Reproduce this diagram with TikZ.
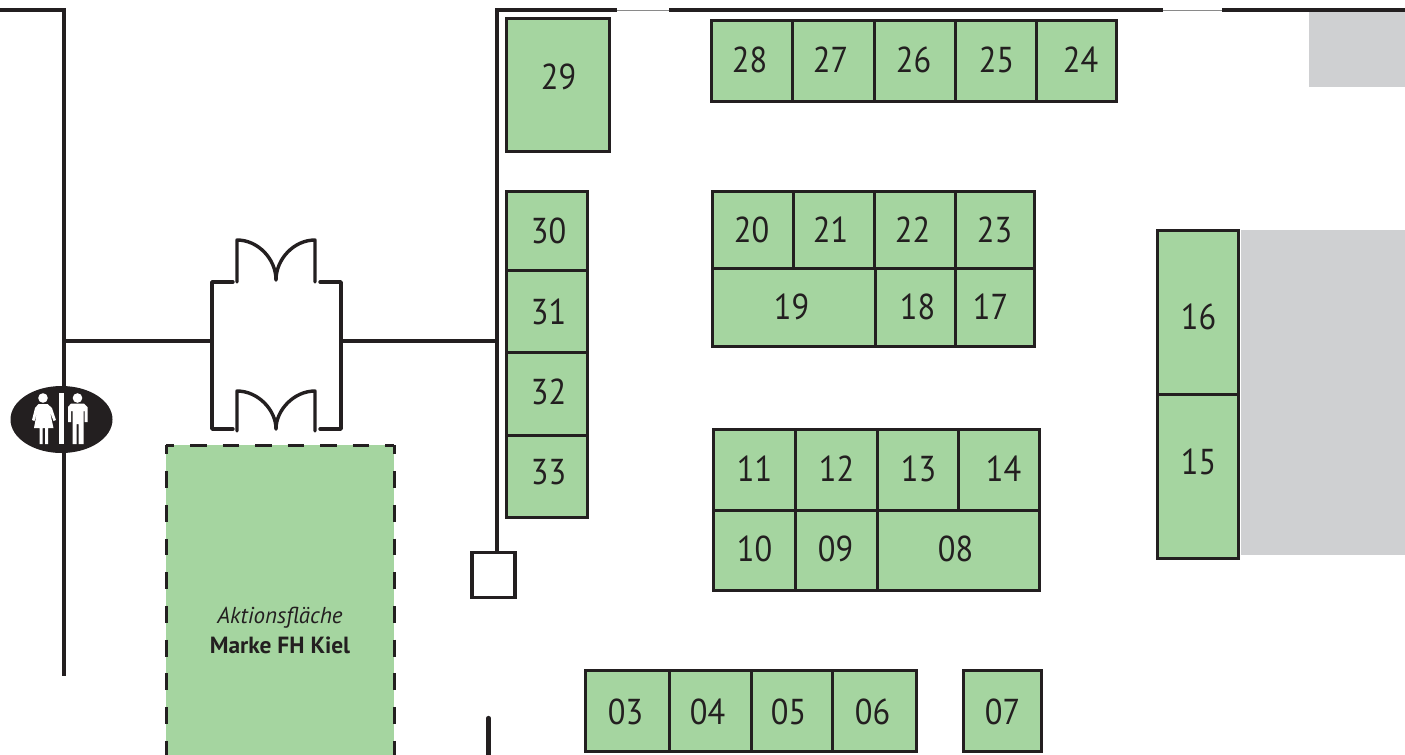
\documentclass[tikz,border=0pt]{standalone}
\usepackage{fontspec}
\usetikzlibrary{shapes.geometric}
\setmainfont[FakeStretch=0.9]{PT Sans}
\newfontfamily\areafont{PT Sans}
\definecolor{boothgreen}{HTML}{A5D5A0}
\definecolor{areagrey}{HTML}{CFD0D2}
\definecolor{inkblack}{HTML}{231F20}
\definecolor{thinwall}{HTML}{8A8A8A}
\tikzset{
  boothbox/.style={draw=inkblack,fill=boothgreen,line width=1.6pt,inner sep=0pt,outer sep=0pt,rectangle},
  boothlabel/.style={text=inkblack,font=\fontsize{18}{20}\selectfont,inner sep=0pt},
  wall/.style={draw=inkblack,line width=2pt},
  gapline/.style={draw=thinwall,line width=0.5pt},
  door/.style={draw=inkblack,line width=1.7pt,line cap=round,line join=round},
  person/.style={fill=white,draw=none},
  areadash/.style={inkblack,line width=1.5pt,dash pattern=on 8.4pt off 8.45pt,dash phase=3.75pt},
}
\newcommand{\booth}[7]{%
  \node[boothbox,minimum width={(#3-#2)*0.5pt},minimum height={(#5-#4)*0.5pt}] (b#1) at ({(#2+#3)/2-0.5},{(#4+#5)/2+0.4}) {};
  \node[boothlabel] (t#1) at ({#6+0.5},{#7}) {#1};
}
\newcommand{\doorpair}[2]{% #1 top y, #2 bottom y
  \draw[door] (237,#2) -- (237,#1) .. controls (258,#1) and (276,{#1+19}) .. (276,{#2-2});
  \draw[door] (315,#2) -- (315,#1) .. controls (294,#1) and (276,{#1+19}) .. (276,{#2-2});
}
\begin{document}
\begin{tikzpicture}[x=0.5pt,y=-0.5pt]
\useasboundingbox (0,0) rectangle (1405,755);
\clip (0,0) rectangle (1405,755);
% grey areas
\fill[areagrey] (1309,12) rectangle (1405,87);
\fill[areagrey] (1241,230) rectangle (1405,555);
% walls
\draw[wall] (0,10) -- (64,10) -- (64,676);
\draw[wall] (64,341) -- (212,341);
\draw[wall] (341,341) -- (497,341);
\draw[wall] (497,552) -- (497,10) -- (617,10);
\draw[gapline] (617,10) -- (669,10);
\draw[wall] (669,10) -- (1163,10);
\draw[gapline] (1163,10) -- (1222,10);
\draw[wall] (1222,10) -- (1405,10);
\draw[wall,line width=2.1pt,line cap=round] (488.5,718) -- (488.5,760);
\node[draw=inkblack,line width=1.7pt,fill=white,minimum width=21.5pt,minimum height=22.5pt,inner sep=0pt,outer sep=0pt] (lift) at (493.5,575) {};
% room with doors
\draw[door] (233,282) -- (212,282) -- (212,429) -- (233,429);
\draw[door] (320,282) -- (341,282) -- (341,429) -- (320,429);
\doorpair{240}{282}
\doorpair{391}{431}
% action area
\node[fill=boothgreen,minimum width=114pt,minimum height=175pt,inner sep=0pt,outer sep=0pt] (area) at (280,620) {};
\draw[inkblack,line width=1.5pt,dash pattern=on 8.4pt off 7.85pt,dash phase=4.25pt] (166,445) -- (394,445);
\draw[areadash] (166,445) -- (166,780);
\draw[areadash] (394,445) -- (394,780);
\node[text=inkblack,font=\areafont\fontsize{11.5}{13}\selectfont\itshape,inner sep=0pt] (area1) at (280,617.5) {Aktionsfläche};
\node[text=inkblack,font=\areafont\fontsize{11.7}{13}\selectfont\bfseries,inner sep=0pt] (area2) at (280,645) {Marke FH Kiel};
% WC sign
\node[ellipse,fill=inkblack,minimum width=51pt,minimum height=33.5pt,inner sep=0pt] (wc) at (61.5,419.5) {};
\fill[white] (59,393) rectangle (64,444);
\fill[person] (43,398) circle[radius=2.4pt];
\fill[person] (38.5,404) -- (47.5,404) -- (52,408) -- (56,420) -- (53.5,421) -- (50,412) -- (53.5,428) -- (48,428) -- (48,444) -- (45,444) -- (45,428) -- (42.5,428) -- (42.5,444) -- (39.5,444) -- (39.5,428) -- (34,428) -- (37,412) -- (34.5,421) -- (32,420) -- (35,408) -- cycle;
\fill[person] (77.5,398) circle[radius=2.4pt];
\fill[person] (71,403.5) -- (84,403.5) -- (87.5,407) -- (87.5,422) -- (84.5,422) -- (84.5,411) -- (83.5,411) -- (83.5,444) -- (78.5,444) -- (78.5,424) -- (76.5,424) -- (76.5,444) -- (72.5,444) -- (72.5,411) -- (71,411) -- (71,422) -- (68,422) -- (68,407) -- cycle;
% booths
\booth{29}{507}{610}{18}{151}{558}{77}
\booth{28}{712}{793}{20}{101}{749}{60}
\booth{27}{793}{875}{20}{101}{830}{60}
\booth{26}{875}{956}{20}{101}{913}{60}
\booth{25}{956}{1037}{20}{101}{996}{60}
\booth{24}{1037}{1117}{20}{101}{1080}{60}
\booth{20}{713}{794}{191}{268}{751}{230}
\booth{21}{794}{875}{191}{268}{830}{230}
\booth{22}{875}{956}{191}{268}{912}{230}
\booth{23}{956}{1035}{191}{268}{994}{230}
\booth{19}{713}{876}{268}{346}{791}{307}
\booth{18}{876}{956}{268}{346}{917}{307}
\booth{17}{956}{1035}{268}{346}{990}{307}
\booth{11}{714}{796}{429}{510}{754}{469}
\booth{12}{796}{878}{429}{510}{836}{469}
\booth{13}{878}{959}{429}{510}{918}{469}
\booth{14}{959}{1040}{429}{510}{1003}{469}
\booth{10}{714}{796}{510}{590}{754}{549}
\booth{09}{796}{878}{510}{590}{835}{549}
\booth{08}{878}{1040}{510}{590}{955}{549}
\booth{30}{507}{588}{191}{270}{548}{231}
\booth{31}{507}{588}{270}{352}{548}{312}
\booth{32}{507}{588}{352}{435}{548}{392}
\booth{33}{507}{588}{435}{517}{548}{472}
\booth{16}{1158}{1239}{230}{394}{1198}{317}
\booth{15}{1158}{1239}{394}{558}{1198}{462}
\booth{03}{586}{670}{670}{751}{625}{712}
\booth{04}{670}{752}{670}{751}{707}{712}
\booth{05}{752}{833}{670}{751}{788}{712}
\booth{06}{833}{917}{670}{751}{872}{712}
\booth{07}{964}{1042}{670}{751}{1002}{712}
\end{tikzpicture}
\end{document}
